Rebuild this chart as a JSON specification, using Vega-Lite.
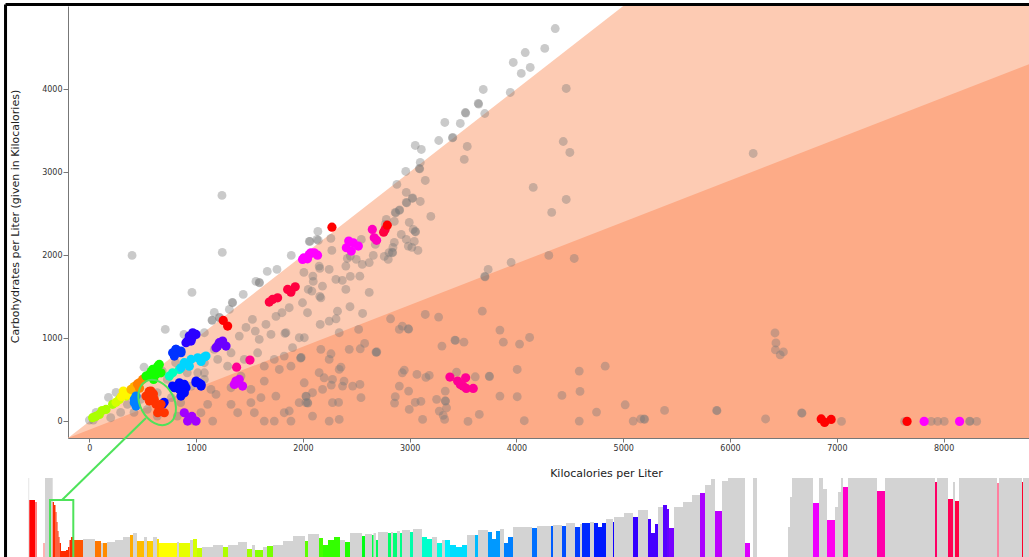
{
  "$schema": "https://vega.github.io/schema/vega-lite/v6.json",
  "width": 961,
  "height": 551,
  "autosize": "none",
  "padding": {"left": 68, "top": 6, "right": 0, "bottom": 0},
  "config": {"view": {"stroke": null}, "background": "white"},
  "datasets": {
    "wedges": [
      {"zone": "light", "x": -200, "top": -200, "base": -200},
      {"zone": "light", "x": 5000, "top": 5000, "base": -200},
      {"zone": "light", "x": 8800, "top": 5000, "base": -200},
      {"zone": "dark", "x": -200, "top": -200, "base": -200},
      {"zone": "dark", "x": 8800, "top": 4300, "base": -200}
    ],
    "gray": [
      {"x":4363,"y":4729},{"x":4265,"y":4489},{"x":4082,"y":4440},{"x":3970,"y":4320},{"x":4129,"y":4260},{"x":4045,"y":4188},{"x":3689,"y":3995},{"x":3942,"y":3959},{"x":4466,"y":4007},{"x":3642,"y":3827},{"x":3646,"y":3820},{"x":3521,"y":3718},{"x":3525,"y":3712},{"x":3703,"y":3706},{"x":3474,"y":3586},{"x":3329,"y":3598},{"x":3404,"y":3418},{"x":3400,"y":3412},{"x":3272,"y":3381},{"x":3539,"y":3309},{"x":3052,"y":3321},{"x":3109,"y":3273},{"x":3511,"y":3153},{"x":4438,"y":3369},{"x":4500,"y":3237},{"x":6217,"y":3225},{"x":3099,"y":3117},{"x":3090,"y":3044},{"x":3094,"y":3040},{"x":2963,"y":3008},{"x":3146,"y":2900},{"x":2880,"y":2852},{"x":2968,"y":2756},{"x":3024,"y":2683},{"x":3028,"y":2690},{"x":2968,"y":2635},{"x":2972,"y":2630},{"x":3099,"y":2647},{"x":2903,"y":2539},{"x":2906,"y":2545},{"x":2865,"y":2515},{"x":2869,"y":2510},{"x":3198,"y":2467},{"x":4157,"y":2816},{"x":4466,"y":2671},{"x":4330,"y":2515},{"x":2781,"y":2431},{"x":2996,"y":2395},{"x":3052,"y":2286},{"x":3055,"y":2280},{"x":2856,"y":2407},{"x":2968,"y":2190},{"x":3043,"y":2166},{"x":2856,"y":2154},{"x":3020,"y":2094},{"x":2837,"y":2034},{"x":2840,"y":2030},{"x":3077,"y":2058},{"x":2762,"y":1986},{"x":2799,"y":1950},{"x":2621,"y":1552},{"x":2556,"y":1889},{"x":2678,"y":2130},{"x":2416,"y":1961},{"x":2271,"y":2058},{"x":2547,"y":2190},{"x":2500,"y":1950},{"x":2444,"y":1745},{"x":2369,"y":1697},{"x":2158,"y":1841},{"x":2050,"y":1588},{"x":2158,"y":1504},{"x":2097,"y":1685},{"x":2009,"y":1793},{"x":4303,"y":1998},{"x":4541,"y":1961},{"x":3950,"y":1913},{"x":3735,"y":1829},{"x":3703,"y":1745},{"x":3706,"y":1740},{"x":2131,"y":2190},{"x":2262,"y":2202},{"x":2060,"y":2166},{"x":2140,"y":2286},{"x":2533,"y":1748},{"x":2621,"y":1912},{"x":2402,"y":1870},{"x":2444,"y":1990},{"x":2659,"y":1998},{"x":2806,"y":2030},{"x":2843,"y":2094},{"x":2987,"y":2110},{"x":2921,"y":2250},{"x":3033,"y":2310},{"x":2771,"y":2370},
      {"x":1242,"y":2720},{"x":1245,"y":2034},{"x":400,"y":1998},{"x":961,"y":1552},{"x":711,"y":1107},{"x":1441,"y":1528},{"x":1339,"y":1432},{"x":1342,"y":1428},{"x":1560,"y":1685},{"x":1591,"y":1673},{"x":1594,"y":1668},{"x":1666,"y":1805},{"x":1757,"y":1829},{"x":1891,"y":1998},{"x":2066,"y":2166},{"x":2144,"y":2178},{"x":1170,"y":1312},{"x":1217,"y":1251},{"x":1220,"y":1247},{"x":1148,"y":1219},{"x":1151,"y":1215},{"x":1311,"y":1348},{"x":512,"y":653},{"x":250,"y":349},{"x":179,"y":289},{"x":63,"y":108},{"x":0,"y":16},{"x":37,"y":16},
      {"x":1404,"y":1027},{"x":1467,"y":1131},{"x":1527,"y":1227},{"x":1554,"y":1087},{"x":1591,"y":987},{"x":1654,"y":1167},{"x":1701,"y":1047},{"x":1748,"y":1263},{"x":1804,"y":1308},{"x":1841,"y":1067},{"x":1832,"y":1059},{"x":1903,"y":887},{"x":1872,"y":1368},{"x":1966,"y":1007},{"x":2013,"y":1007},{"x":2043,"y":1308},{"x":1996,"y":1428},{"x":2084,"y":1568},{"x":2168,"y":1488},{"x":2183,"y":1628},{"x":2093,"y":1749},{"x":2152,"y":1869},{"x":2246,"y":1829},{"x":2309,"y":1709},{"x":2324,"y":1327},{"x":2402,"y":1588},{"x":2162,"y":1167},{"x":2246,"y":1207},{"x":2340,"y":1067},{"x":1981,"y":766},{"x":1984,"y":770},{"x":1978,"y":762},{"x":2168,"y":867},{"x":2246,"y":746},{"x":2340,"y":626},{"x":2434,"y":867},{"x":2152,"y":586},{"x":2199,"y":525},{"x":2012,"y":465},{"x":2090,"y":345},{"x":1965,"y":225},{"x":2028,"y":225},{"x":1872,"y":125},{"x":1747,"y":305},{"x":1607,"y":285},{"x":1513,"y":385},{"x":1638,"y":485},{"x":1420,"y":545},{"x":1327,"y":405},{"x":1513,"y":225},{"x":1327,"y":205},{"x":1389,"y":104},{"x":1545,"y":104},{"x":1638,"y":4},{"x":1732,"y":4},{"x":1825,"y":104},{"x":1888,"y":4},{"x":1186,"y":325},{"x":1108,"y":205},{"x":1045,"y":104},{"x":1155,"y":4},{"x":1139,"y":385},{"x":1295,"y":665},{"x":1202,"y":746},{"x":1077,"y":706},{"x":1015,"y":585},{"x":1170,"y":867},{"x":1327,"y":826},{"x":1451,"y":746},{"x":1576,"y":826},{"x":1638,"y":665},{"x":1779,"y":625},{"x":1888,"y":665},{"x":1825,"y":786},{"x":1732,"y":746},{"x":1077,"y":1067},{"x":886,"y":1047},{"x":808,"y":706},{"x":917,"y":585},{"x":1077,"y":585},{"x":730,"y":505},{"x":636,"y":345},{"x":855,"y":225},{"x":824,"y":64},{"x":980,"y":4},{"x":636,"y":64},{"x":418,"y":108},{"x":543,"y":145},{"x":480,"y":265},{"x":356,"y":205},{"x":293,"y":108},{"x":200,"y":44},{"x":683,"y":605},{"x":1077,"y":505},{"x":955,"y":425},{"x":893,"y":345},{"x":768,"y":285},{"x":2277,"y":505},{"x":2184,"y":385},{"x":2277,"y":225},{"x":2090,"y":64},{"x":2246,"y":4},{"x":2340,"y":24},{"x":2371,"y":425},{"x":2028,"y":305},{"x":2031,"y":300},{"x":2043,"y":225},{"x":2046,"y":220},
      {"x":2441,"y":1380},{"x":2559,"y":1299},{"x":2310,"y":1235},{"x":3146,"y":1287},{"x":3271,"y":1255},{"x":3680,"y":1327},{"x":2821,"y":1235},{"x":2522,"y":1107},{"x":2903,"y":1107},{"x":2987,"y":1115},{"x":2990,"y":1110},{"x":2931,"y":1147},{"x":3845,"y":1099},{"x":4123,"y":1010},{"x":3424,"y":978},{"x":3428,"y":975},{"x":3508,"y":954},{"x":3877,"y":954},{"x":4029,"y":930},{"x":3302,"y":906},{"x":2578,"y":938},{"x":2537,"y":874},{"x":2684,"y":834},{"x":2688,"y":830},{"x":2692,"y":838},{"x":2263,"y":814},{"x":2356,"y":653},{"x":2949,"y":617},{"x":2931,"y":585},{"x":3068,"y":565},{"x":3152,"y":529},{"x":3183,"y":553},{"x":3439,"y":593},{"x":3614,"y":537},{"x":3745,"y":545},{"x":3748,"y":540},{"x":4007,"y":625},{"x":4588,"y":605},{"x":4831,"y":665},{"x":2385,"y":485},{"x":2266,"y":437},{"x":2466,"y":425},{"x":2534,"y":445},{"x":2903,"y":425},{"x":2990,"y":365},{"x":2865,"y":297},{"x":2544,"y":285},{"x":2334,"y":228},{"x":2858,"y":220},{"x":2996,"y":144},{"x":3052,"y":228},{"x":3105,"y":240},{"x":3252,"y":265},{"x":3333,"y":365},{"x":3333,"y":248},{"x":3336,"y":244},{"x":3345,"y":164},{"x":3277,"y":124},{"x":3314,"y":72},{"x":3327,"y":24},{"x":3121,"y":24},{"x":3546,"y":0},{"x":3652,"y":84},{"x":3845,"y":305},{"x":4007,"y":297},{"x":4426,"y":313},{"x":4595,"y":361},{"x":4073,"y":8},{"x":4588,"y":4},{"x":4750,"y":112},{"x":5018,"y":200},{"x":5093,"y":4},
      {"x":5164,"y":29},{"x":5196,"y":29},{"x":5200,"y":25},{"x":5387,"y":132},{"x":5875,"y":132},{"x":5878,"y":128},{"x":6333,"y":29},{"x":6671,"y":102},{"x":6674,"y":98},{"x":7044,"y":0},{"x":7635,"y":0},{"x":7884,"y":0},{"x":7945,"y":0},{"x":8006,"y":0},{"x":8243,"y":0},{"x":8247,"y":4},{"x":8310,"y":0},
      {"x":6421,"y":1064},{"x":6430,"y":944},{"x":6425,"y":860},{"x":6470,"y":800},{"x":6500,"y":836}
    ],
    "colored": [
      {"x":31,"y":44,"hue":80},{"x":94,"y":84,"hue":80},{"x":156,"y":144,"hue":80},{"x":218,"y":205,"hue":80},{"x":120,"y":130,"hue":80},{"x":60,"y":60,"hue":80},
      {"x":281,"y":265,"hue":70},{"x":343,"y":305,"hue":70},{"x":250,"y":230,"hue":70},
      {"x":300,"y":300,"hue":58},{"x":330,"y":330,"hue":58},{"x":360,"y":320,"hue":58},{"x":318,"y":365,"hue":58},{"x":390,"y":360,"hue":58},
      {"x":390,"y":385,"hue":42},{"x":420,"y":420,"hue":42},{"x":437,"y":405,"hue":42},
      {"x":450,"y":450,"hue":30},{"x":470,"y":400,"hue":30},{"x":468,"y":465,"hue":30},{"x":499,"y":505,"hue":30},
      {"x":531,"y":545,"hue":115},{"x":593,"y":625,"hue":115},{"x":640,"y":665,"hue":115},{"x":671,"y":585,"hue":115},{"x":602,"y":505,"hue":115},{"x":562,"y":565,"hue":115},{"x":546,"y":545,"hue":115},{"x":655,"y":685,"hue":115},{"x":624,"y":565,"hue":115},{"x":580,"y":600,"hue":115},
      {"x":749,"y":545,"hue":165},{"x":780,"y":585,"hue":165},{"x":843,"y":625,"hue":165},
      {"x":889,"y":706,"hue":190},{"x":952,"y":746,"hue":190},{"x":1015,"y":766,"hue":190},{"x":1077,"y":774,"hue":190},{"x":1046,"y":722,"hue":190},{"x":1092,"y":786,"hue":190},{"x":1046,"y":746,"hue":190},{"x":936,"y":665,"hue":190},{"x":858,"y":645,"hue":190},
      {"x":421,"y":265,"hue":210},{"x":437,"y":185,"hue":210},{"x":421,"y":225,"hue":210},{"x":437,"y":305,"hue":210},
      {"x":780,"y":826,"hue":228},{"x":811,"y":867,"hue":228},{"x":858,"y":826,"hue":228},{"x":811,"y":866,"hue":228},{"x":858,"y":846,"hue":228},{"x":796,"y":786,"hue":228},
      {"x":796,"y":405,"hue":238},{"x":843,"y":465,"hue":238},{"x":889,"y":345,"hue":238},{"x":858,"y":305,"hue":238},{"x":905,"y":405,"hue":238},{"x":1023,"y":465,"hue":238},{"x":1046,"y":425,"hue":238},{"x":999,"y":485,"hue":238},{"x":780,"y":425,"hue":238},{"x":843,"y":385,"hue":238},{"x":889,"y":445,"hue":238},{"x":874,"y":345,"hue":238},{"x":999,"y":465,"hue":238},{"x":1046,"y":445,"hue":238},{"x":686,"y":205,"hue":238},{"x":700,"y":230,"hue":238},
      {"x":936,"y":1027,"hue":250},{"x":968,"y":1067,"hue":250},{"x":999,"y":1047,"hue":250},{"x":905,"y":947,"hue":250},{"x":952,"y":967,"hue":250},{"x":983,"y":1047,"hue":250},{"x":920,"y":967,"hue":250},{"x":960,"y":1000,"hue":250},
      {"x":1217,"y":947,"hue":265},{"x":1248,"y":967,"hue":265},{"x":1186,"y":887,"hue":265},{"x":1280,"y":907,"hue":265},{"x":1201,"y":906,"hue":265},{"x":1248,"y":946,"hue":265},
      {"x":889,"y":104,"hue":278},{"x":936,"y":44,"hue":278},{"x":999,"y":4,"hue":278},{"x":920,"y":4,"hue":278},{"x":960,"y":60,"hue":278},
      {"x":1373,"y":485,"hue":290},{"x":1404,"y":505,"hue":290},{"x":1358,"y":445,"hue":290},{"x":1435,"y":425,"hue":290},
      {"x":1997,"y":1949,"hue":300},{"x":2059,"y":2009,"hue":300},{"x":2106,"y":2029,"hue":300},{"x":2137,"y":2001,"hue":300},{"x":2043,"y":1957,"hue":300},{"x":2009,"y":1969,"hue":300},{"x":2075,"y":2030,"hue":300},{"x":2407,"y":2090,"hue":300},{"x":2472,"y":2150,"hue":300},{"x":2519,"y":2110,"hue":300},{"x":2429,"y":2170,"hue":300},{"x":2453,"y":2050,"hue":300},{"x":7818,"y":0,"hue":300},{"x":8150,"y":0,"hue":300},
      {"x":2650,"y":2310,"hue":315},{"x":2668,"y":2210,"hue":315},{"x":2690,"y":2180,"hue":315},
      {"x":3377,"y":533,"hue":325},{"x":3449,"y":485,"hue":325},{"x":3524,"y":525,"hue":325},{"x":3499,"y":425,"hue":325},{"x":3595,"y":397,"hue":325},{"x":3530,"y":397,"hue":325},{"x":3474,"y":445,"hue":325},{"x":1379,"y":653,"hue":325},{"x":1504,"y":738,"hue":325},
      {"x":1716,"y":1468,"hue":345},{"x":1763,"y":1488,"hue":345},{"x":1685,"y":1436,"hue":345},{"x":1857,"y":1588,"hue":345},{"x":1928,"y":1620,"hue":345},{"x":1888,"y":1556,"hue":345},{"x":2756,"y":2278,"hue":345},{"x":2770,"y":2310,"hue":345},
      {"x":1254,"y":1215,"hue":0},{"x":1295,"y":1147,"hue":0},{"x":2272,"y":2337,"hue":0},{"x":2790,"y":2362,"hue":0},{"x":6854,"y":29,"hue":0},{"x":6886,"y":-12,"hue":0},{"x":6947,"y":24,"hue":0},{"x":7658,"y":0,"hue":0},
      {"x":531,"y":305,"hue":12},{"x":577,"y":365,"hue":12},{"x":608,"y":265,"hue":12},{"x":624,"y":205,"hue":12},{"x":655,"y":145,"hue":12},{"x":702,"y":104,"hue":12},{"x":640,"y":104,"hue":12},{"x":562,"y":245,"hue":12},{"x":671,"y":205,"hue":12},{"x":600,"y":330,"hue":12},{"x":560,"y":360,"hue":12}
    ],
    "ellipse": [{"x": 635, "y": 227}],
    "link": [{"x": 530, "y": 41, "x2": -256, "y2": -946}],
    "frame": [
      {"x": -785, "y": 5017, "x2": 9500, "y2": 5017},
      {"x": -785, "y": 5017, "x2": -785, "y2": -1800}
    ],
    "strip": [
      {"s0":0,"s1":1.3,"h":79,"fade":1},
      {"s0":1.3,"s1":7,"h":57,"hue":0},
      {"s0":7,"s1":9,"h":55,"hue":0,"fade":1},
      {"s0":15,"s1":17,"h":14,"hue":0,"fade":2},
      {"s0":17,"s1":24.7,"h":79},
      {"s0":24.7,"s1":26,"h":55,"hue":10},
      {"s0":26,"s1":27.5,"h":52,"hue":10},
      {"s0":27.5,"s1":28.5,"h":45,"hue":10},
      {"s0":28.5,"s1":29.5,"h":35,"hue":10},
      {"s0":29.5,"s1":30.5,"h":26,"hue":10},
      {"s0":30.5,"s1":31.5,"h":20,"hue":10},
      {"s0":31.5,"s1":33,"h":14,"hue":10},
      {"s0":33,"s1":38,"h":6,"hue":10},
      {"s0":38,"s1":40,"h":7,"hue":10},
      {"s0":40,"s1":41.5,"h":10,"hue":10},
      {"s0":41.5,"s1":43,"h":17,"hue":10},
      {"s0":43,"s1":45,"h":20,"hue":10},
      {"s0":45,"s1":55,"h":17,"hue":20},
      {"s0":55,"s1":67,"h":18},
      {"s0":67,"s1":73,"h":16,"hue":28},
      {"s0":73,"s1":75,"h":14},
      {"s0":75,"s1":79,"h":14,"hue":33},
      {"s0":79,"s1":87,"h":15},
      {"s0":87,"s1":95,"h":17},
      {"s0":95,"s1":102,"h":20},
      {"s0":102,"s1":105,"h":22,"hue":40},
      {"s0":105,"s1":109,"h":24},
      {"s0":109,"s1":116,"h":16,"hue":44},
      {"s0":116,"s1":119,"h":20},
      {"s0":119,"s1":120,"h":16,"hue":44},
      {"s0":120,"s1":125,"h":16,"hue":48},
      {"s0":125,"s1":129,"h":20},
      {"s0":129,"s1":131,"h":18,"hue":52},
      {"s0":131,"s1":149,"h":14,"hue":60},
      {"s0":149,"s1":151,"h":15},
      {"s0":151,"s1":162,"h":14,"hue":66},
      {"s0":162,"s1":165,"h":17},
      {"s0":165,"s1":169,"h":18,"hue":70},
      {"s0":169,"s1":174,"h":9,"hue":74},
      {"s0":174,"s1":185,"h":10},
      {"s0":185,"s1":195,"h":12},
      {"s0":195,"s1":200,"h":10,"hue":79},
      {"s0":200,"s1":210,"h":12},
      {"s0":210,"s1":219,"h":15},
      {"s0":219,"s1":224,"h":8,"hue":82},
      {"s0":224,"s1":227,"h":12},
      {"s0":227,"s1":235,"h":7,"hue":88},
      {"s0":235,"s1":239,"h":10},
      {"s0":239,"s1":245,"h":11,"hue":92},
      {"s0":245,"s1":255,"h":12},
      {"s0":255,"s1":265,"h":16},
      {"s0":265,"s1":277,"h":21},
      {"s0":277,"s1":280,"h":16,"hue":98},
      {"s0":280,"s1":291,"h":23},
      {"s0":291,"s1":295,"h":19,"hue":104},
      {"s0":295,"s1":300,"h":12,"hue":108},
      {"s0":300,"s1":306,"h":17,"hue":108},
      {"s0":306,"s1":312,"h":20,"hue":108},
      {"s0":312,"s1":317,"h":17},
      {"s0":317,"s1":322,"h":15,"hue":112},
      {"s0":322,"s1":334,"h":24},
      {"s0":334,"s1":337,"h":21,"hue":125},
      {"s0":337,"s1":344,"h":23},
      {"s0":344,"s1":345.5,"h":22,"hue":136},
      {"s0":345.5,"s1":348,"h":24},
      {"s0":348,"s1":350,"h":17,"hue":140},
      {"s0":350,"s1":360,"h":25},
      {"s0":360,"s1":363,"h":24,"hue":144},
      {"s0":363,"s1":365,"h":25},
      {"s0":365,"s1":369,"h":24,"hue":148},
      {"s0":369,"s1":372,"h":26},
      {"s0":372,"s1":374,"h":24,"hue":152},
      {"s0":374,"s1":382,"h":27},
      {"s0":382,"s1":385,"h":25,"hue":160},
      {"s0":385,"s1":394,"h":28},
      {"s0":394,"s1":399,"h":20,"hue":168},
      {"s0":399,"s1":404,"h":18,"hue":168},
      {"s0":404,"s1":409,"h":20},
      {"s0":409,"s1":414,"h":14,"hue":172},
      {"s0":414,"s1":417,"h":17},
      {"s0":417,"s1":422,"h":17,"hue":184},
      {"s0":422,"s1":428,"h":12,"hue":188},
      {"s0":428,"s1":434,"h":10,"hue":188},
      {"s0":434,"s1":439,"h":12,"hue":188},
      {"s0":439,"s1":447,"h":22},
      {"s0":447,"s1":450,"h":22,"hue":196},
      {"s0":450,"s1":460,"h":27},
      {"s0":460,"s1":464,"h":25,"hue":204},
      {"s0":464,"s1":468,"h":18,"hue":204},
      {"s0":468,"s1":472,"h":26,"hue":204},
      {"s0":472,"s1":476,"h":28},
      {"s0":476,"s1":480,"h":14,"hue":210},
      {"s0":480,"s1":485,"h":20,"hue":210},
      {"s0":485,"s1":504,"h":30},
      {"s0":504,"s1":509,"h":29,"hue":214},
      {"s0":509,"s1":523,"h":31},
      {"s0":523,"s1":525,"h":31,"hue":218},
      {"s0":525,"s1":534,"h":32},
      {"s0":534,"s1":538,"h":31,"hue":222},
      {"s0":538,"s1":547,"h":34},
      {"s0":547,"s1":552,"h":30,"hue":226},
      {"s0":552,"s1":554,"h":33},
      {"s0":554,"s1":562,"h":34,"hue":230},
      {"s0":562,"s1":566,"h":35},
      {"s0":566,"s1":570,"h":34,"hue":234},
      {"s0":570,"s1":574,"h":30,"hue":234},
      {"s0":574,"s1":578,"h":34,"hue":234},
      {"s0":578,"s1":585,"h":38},
      {"s0":585,"s1":586,"h":35,"hue":244},
      {"s0":586,"s1":596,"h":40},
      {"s0":596,"s1":605,"h":44},
      {"s0":605,"s1":610,"h":40,"hue":252},
      {"s0":610,"s1":620,"h":47},
      {"s0":620,"s1":623,"h":38,"hue":256},
      {"s0":623,"s1":627,"h":24,"hue":256},
      {"s0":627,"s1":630,"h":33,"hue":256},
      {"s0":630,"s1":635,"h":50},
      {"s0":635,"s1":639,"h":52,"hue":260},
      {"s0":639,"s1":641,"h":48,"hue":264},
      {"s0":641,"s1":646,"h":29,"hue":268},
      {"s0":646,"s1":655,"h":50},
      {"s0":655,"s1":664,"h":55},
      {"s0":664,"s1":672,"h":62},
      {"s0":672,"s1":677,"h":64,"hue":280},
      {"s0":677,"s1":683,"h":72},
      {"s0":683,"s1":687,"h":78},
      {"s0":687,"s1":694,"h":46,"hue":284},
      {"s0":694,"s1":700,"h":76},
      {"s0":700,"s1":717,"h":79},
      {"s0":717,"s1":722,"h":14,"hue":292},
      {"s0":725,"s1":729,"h":79},
      {"s0":760,"s1":762,"h":30},
      {"s0":762,"s1":764,"h":60},
      {"s0":764,"s1":785,"h":79},
      {"s0":785,"s1":791,"h":54,"hue":296},
      {"s0":791,"s1":795,"h":79},
      {"s0":795,"s1":799,"h":68},
      {"s0":799,"s1":807,"h":37,"hue":304},
      {"s0":807,"s1":810,"h":50},
      {"s0":810,"s1":813,"h":65},
      {"s0":813,"s1":815,"h":79},
      {"s0":815,"s1":820,"h":70,"hue":312},
      {"s0":820,"s1":849,"h":79},
      {"s0":849,"s1":857,"h":66,"hue":320},
      {"s0":857,"s1":907,"h":79},
      {"s0":907,"s1":909,"h":75,"hue":336},
      {"s0":909,"s1":920,"h":79},
      {"s0":920,"s1":925,"h":58,"hue":340},
      {"s0":925,"s1":927,"h":75},
      {"s0":927,"s1":931,"h":56,"hue":344},
      {"s0":931,"s1":969,"h":79},
      {"s0":969,"s1":971,"h":74,"hue":345,"fade":1},
      {"s0":971,"s1":994,"h":79},
      {"s0":994,"s1":995,"h":75,"hue":350},
      {"s0":995,"s1":1001,"h":79}
    ],
    "zoombox": [{"s0": 22, "s1": 45.3, "lo": -3, "hi": 57}]
  },
  "layer": [
    {
      "layer": [
        {
          "data": {"name": "wedges"},
          "transform": [{"filter": "datum.zone == 'light'"}],
          "mark": {"type": "area", "color": "#fdcbb3", "opacity": 1},
          "encoding": {
            "x": {
              "field": "x", "type": "quantitative",
              "scale": {"domain": [-200, 8800], "range": [0, 961], "nice": false, "zero": false},
              "axis": {
                "values": [0, 1000, 2000, 3000, 4000, 5000, 6000, 7000, 8000],
                "format": "d", "offset": -119, "grid": false,
                "domainColor": "#777", "tickColor": "#777", "tickSize": 4,
                "labelFont": "DejaVu Sans", "labelFontSize": 8, "labelColor": "#333", "labelPadding": 2,
                "title": "Kilocalories per Liter", "titleFont": "DejaVu Sans", "titleFontSize": 11,
                "titleFontWeight": "normal", "titleColor": "#222",
                "titleX": 538, "titleY": 38, "titleAlign": "center", "titleBaseline": "alphabetic"
              }
            },
            "y": {
              "field": "top", "type": "quantitative",
              "scale": {"domain": [-200, 5000], "range": [432, 0], "nice": false, "zero": false},
              "axis": {
                "values": [0, 1000, 2000, 3000, 4000],
                "format": "d", "grid": false,
                "domainColor": "#777", "tickColor": "#777", "tickSize": 5,
                "labelFont": "DejaVu Sans", "labelFontSize": 8, "labelColor": "#333", "labelPadding": 1,
                "title": "Carbohydrates per Liter (given in Kilocalories)", "titleFont": "DejaVu Sans",
                "titleFontSize": 11, "titleFontWeight": "normal", "titleColor": "#222",
                "titleX": -53, "titleY": 210, "titleAngle": 270, "titleAlign": "center", "titleBaseline": "middle"
              }
            },
            "y2": {"field": "base"}
          }
        },
        {
          "data": {"name": "wedges"},
          "transform": [{"filter": "datum.zone == 'dark'"}],
          "mark": {"type": "area", "color": "#fdab87", "opacity": 1},
          "encoding": {
            "x": {"field": "x", "type": "quantitative"},
            "y": {"field": "top", "type": "quantitative"},
            "y2": {"field": "base"}
          }
        },
        {
          "data": {"name": "gray"},
          "mark": {"type": "circle", "size": 78, "color": "#7a7a7a", "opacity": 0.4},
          "encoding": {
            "x": {"field": "x", "type": "quantitative"},
            "y": {"field": "y", "type": "quantitative"}
          }
        },
        {
          "data": {"name": "colored"},
          "mark": {"type": "circle", "size": 85, "opacity": 1},
          "encoding": {
            "x": {"field": "x", "type": "quantitative"},
            "y": {"field": "y", "type": "quantitative"},
            "color": {
              "field": "hue", "type": "quantitative",
              "scale": {"domain": [0, 360], "range": ["hsl(0,100%,50%)", "hsl(360,100%,50%)"], "interpolate": "hsl-long"},
              "legend": null
            }
          }
        },
        {
          "data": {"name": "ellipse"},
          "mark": {
            "type": "point", "filled": false, "stroke": "#4ee35a", "strokeWidth": 2, "opacity": 1,
            "size": 2304, "angle": 332,
            "shape": "M 0 -1 C 0.392 -1 0.71 -0.552 0.71 0 C 0.71 0.552 0.392 1 0 1 C -0.392 1 -0.71 0.552 -0.71 0 C -0.71 -0.552 -0.392 -1 0 -1 Z"
          },
          "encoding": {
            "x": {"field": "x", "type": "quantitative"},
            "y": {"field": "y", "type": "quantitative"}
          }
        },
        {
          "data": {"name": "link"},
          "mark": {"type": "rule", "color": "#4ee35a", "strokeWidth": 2},
          "encoding": {
            "x": {"field": "x", "type": "quantitative"},
            "y": {"field": "y", "type": "quantitative"},
            "x2": {"field": "x2"},
            "y2": {"field": "y2"}
          }
        },
        {
          "data": {"name": "frame"},
          "mark": {"type": "rule", "color": "#000000", "strokeWidth": 3},
          "encoding": {
            "x": {"field": "x", "type": "quantitative"},
            "y": {"field": "y", "type": "quantitative"},
            "x2": {"field": "x2"},
            "y2": {"field": "y2"}
          }
        }
      ]
    },
    {
      "layer": [
        {
          "data": {"name": "strip"},
          "transform": [{"filter": "!isValid(datum.hue)"}],
          "mark": {"type": "rect", "color": "#d3d3d3"},
          "encoding": {
            "x": {
              "field": "s0", "type": "quantitative",
              "scale": {"domain": [0, 1001], "range": [-40, 961], "nice": false, "zero": false},
              "axis": null
            },
            "x2": {"field": "s1"},
            "y": {
              "field": "h", "type": "quantitative",
              "scale": {"domain": [0, 79], "range": [551, 472], "nice": false, "zero": false},
              "axis": null
            },
            "y2": {"datum": 0},
            "opacity": {"condition": {"test": "datum.fade == 1", "value": 0.45}, "value": 1}
          }
        },
        {
          "data": {"name": "strip"},
          "transform": [{"filter": "isValid(datum.hue)"}],
          "mark": {"type": "rect"},
          "encoding": {
            "x": {"field": "s0", "type": "quantitative"},
            "x2": {"field": "s1"},
            "y": {"field": "h", "type": "quantitative"},
            "y2": {"datum": 0},
            "color": {
              "field": "hue", "type": "quantitative",
              "scale": {"domain": [0, 360], "range": ["hsl(0,100%,50%)", "hsl(360,100%,50%)"], "interpolate": "hsl-long"},
              "legend": null
            },
            "opacity": {
              "condition": [
                {"test": "datum.fade == 1", "value": 0.5},
                {"test": "datum.fade == 2", "value": 0.3}
              ],
              "value": 1
            }
          }
        },
        {
          "data": {"name": "zoombox"},
          "mark": {"type": "rect", "filled": false, "stroke": "#4ee35a", "strokeWidth": 2},
          "encoding": {
            "x": {"field": "s0", "type": "quantitative"},
            "x2": {"field": "s1"},
            "y": {"field": "hi", "type": "quantitative"},
            "y2": {"field": "lo"}
          }
        }
      ]
    }
  ],
  "resolve": {"scale": {"x": "independent", "y": "independent"}}
}
